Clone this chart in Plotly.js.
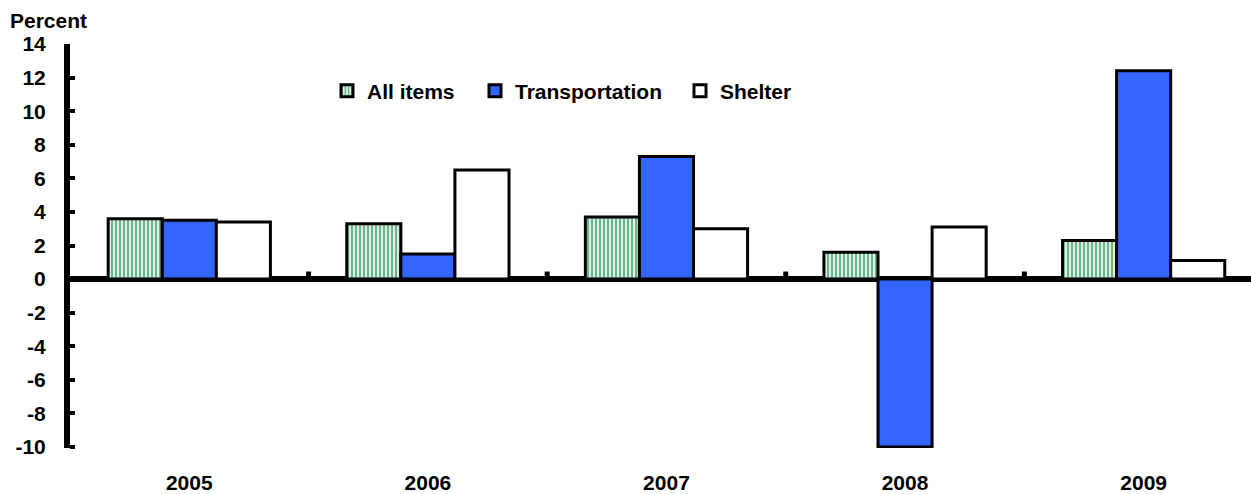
<!DOCTYPE html>
<html><head><meta charset="utf-8">
<script src="https://cdn.plot.ly/plotly-3.0.1.min.js"></script>
<style>html,body{margin:0;padding:0;background:#fff}</style>
</head><body>
<div id="chart" style="width:1251px;height:494px"></div>
<script>
const years = ['2005', '2006', '2007', '2008', '2009'];
const allItems = [3.6, 3.3, 3.7, 1.6, 2.3];
const transportation = [3.5, 1.5, 7.3, -10.0, 12.4];
const shelter = [3.4, 6.5, 3.0, 3.1, 1.1];
const yTickVals = [14, 12, 10, 8, 6, 4, 2, 0, -2, -4, -6, -8, -10];
const seriesNames = ['All items', 'Transportation', 'Shelter'];

const FONT = '"Liberation Sans", Arial, sans-serif';
const FS = 21;
const lineStyle = {color: '#000000', width: 3};

const traces = [
  {type: 'bar', name: seriesNames[0], x: years, y: allItems, legend: 'legend',
   marker: {color: '#DDEFE4', line: lineStyle,
            pattern: {shape: '|', fgcolor: '#5FAE82', bgcolor: '#DDEFE4', size: 4, solidity: 0.45, fillmode: 'replace'}}},
  {type: 'bar', name: seriesNames[1], x: years, y: transportation, legend: 'legend2',
   marker: {color: '#3366FF', line: lineStyle}},
  {type: 'bar', name: seriesNames[2], x: years, y: shelter, legend: 'legend3',
   marker: {color: '#FFFFFF', line: lineStyle}}
];

// small boundary notches on the zero line, between categories
const notches = years.slice(0, -1).map((_, i) => ({
  type: 'line', xref: 'x', yref: 'y', x0: i + 0.5, x1: i + 0.5, y0: 0, y1: 0.45,
  line: {color: '#000000', width: 5}
}));

const L = 70, T = 44, B = 46, W = 1251, H = 494;
const plotW = W - L, plotH = H - T - B;
const txtFont = {family: FONT, size: FS, color: '#000000', weight: 'bold'};
const legBase = {orientation: 'h', xanchor: 'left', yanchor: 'middle', y: (plotH + T - 91) / plotH,
                 bgcolor: 'rgba(0,0,0,0)', font: txtFont, borderwidth: 0};

const layout = {
  width: W, height: H,
  margin: {l: L, r: 0, t: T, b: B, pad: 0},
  paper_bgcolor: '#FFFFFF', plot_bgcolor: '#FFFFFF',
  barmode: 'group', bargap: 0.32, bargroupgap: 0,
  font: txtFont,
  showlegend: true,
  legend: Object.assign({}, legBase, {x: (327 - L) / plotW}),
  legend2: Object.assign({}, legBase, {x: (475 - L) / plotW}),
  legend3: Object.assign({}, legBase, {x: (680 - L) / plotW}),
  xaxis: {type: 'category', range: [-0.5, 4.45], showline: false, showgrid: false, zeroline: false,
          ticks: '', ticklabelstandoff: 20, tickfont: txtFont},
  yaxis: {range: [-10.06, 14], tickvals: yTickVals, ticktext: yTickVals.map(String),
          showline: true, linewidth: 6, linecolor: '#000000', showgrid: false,
          zeroline: true, zerolinewidth: 6, zerolinecolor: '#000000',
          ticks: 'inside', ticklen: 5, tickwidth: 4, tickcolor: '#000000',
          ticklabelstandoff: 14, tickfont: txtFont},
  shapes: notches,
  annotations: [{text: 'Percent', xref: 'paper', yref: 'paper', x: (8 - L) / plotW, xanchor: 'left',
                 y: (plotH + T - 21) / plotH, yanchor: 'middle', showarrow: false, font: txtFont}]
};

Plotly.newPlot('chart', traces, layout, {displayModeBar: false, staticPlot: true});
</script>
</body></html>
